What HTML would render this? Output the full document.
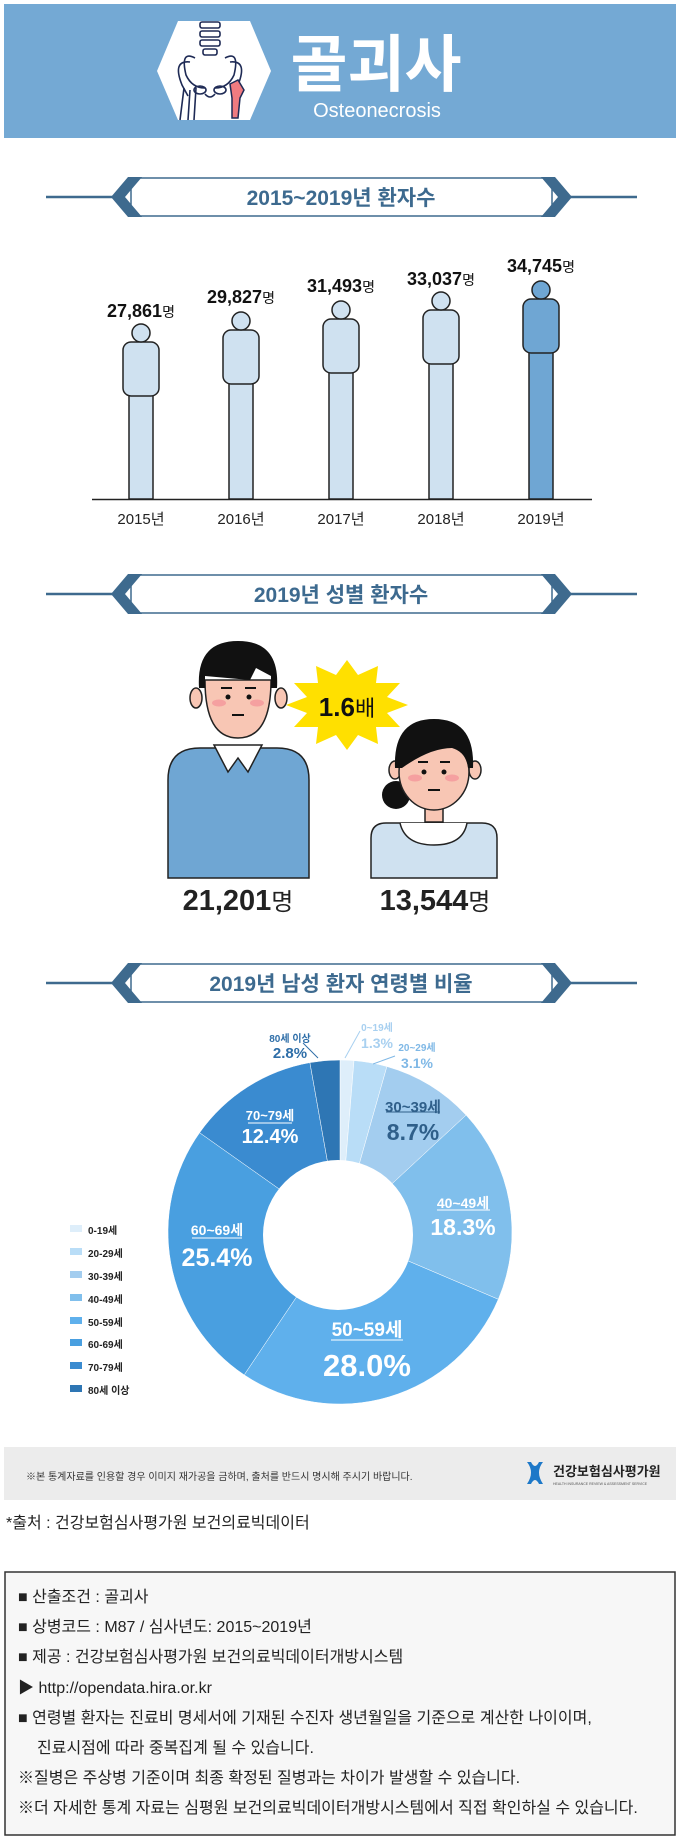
<!DOCTYPE html>
<html><head><meta charset="utf-8"><style>
html,body{margin:0;padding:0;background:#fff}
svg{display:block}
text{font-family:"Liberation Sans","Noto Sans CJK KR",sans-serif}
</style></head><body>
<svg width="680" height="1838" viewBox="0 0 680 1838" xmlns="http://www.w3.org/2000/svg">
<defs>
<g id="banner">
<line x1="46" y1="0" x2="115" y2="0" stroke="#3e6a8e" stroke-width="2.5"/>
<line x1="568" y1="0" x2="637" y2="0" stroke="#3e6a8e" stroke-width="2.5"/>
<path d="M136,-19 L547,-19 Q552,-19 552,-14 L552,14 Q552,19 547,19 L136,19 Q131,19 131,14 L131,-14 Q131,-19 136,-19 Z" fill="#fff" stroke="#3e6a8e" stroke-width="1.5"/>
<path d="M128,-20 L142,-20 L125,0 L142,20 L128,20 L111,0 Z" fill="#3e6a8e"/>
<path d="M555,-20 L541,-20 L558,0 L541,20 L555,20 L572,0 Z" fill="#3e6a8e"/>
</g>
</defs>
<!-- header -->
<rect x="4" y="4" width="672" height="134" fill="#74a9d4"/>
<polygon points="157,71 178,21 250,21 271,71 250,120 178,120" fill="#fff"/>
<g fill="none" stroke="#1e2a55" stroke-width="1.6">
<rect x="200" y="22" width="20" height="6" rx="2"/><rect x="200" y="31" width="20" height="6" rx="2"/><rect x="200" y="40" width="20" height="6" rx="2"/><rect x="203" y="49" width="14" height="6" rx="2"/>
<path d="M195,58 Q180,50 186,75 Q192,88 205,88 M225,58 Q240,50 234,75 Q228,88 215,88"/>
<path d="M190,62 Q172,60 182,85 L188,96 M230,62 Q248,60 238,85"/>
<path d="M196,88 L194,120 M205,94 Q210,100 215,94"/>
<ellipse cx="200" cy="90" rx="6" ry="4"/><ellipse cx="220" cy="90" rx="6" ry="4"/>
<path d="M184,88 L180,120 M190,90 L188,120"/>
</g>
<path d="M230,84 L238,80 L244,90 L240,98 L238,118 L232,118 L232,98 Z" fill="#f07b80" stroke="#1e2a55" stroke-width="1.5"/>
<text x="376" y="86" text-anchor="middle" font-size="62" font-weight="bold" fill="#fff">골괴사</text>
<text x="377" y="117" text-anchor="middle" font-size="20" fill="#fff">Osteonecrosis</text>

<!-- section 1 -->
<use href="#banner" transform="translate(0,197)"/>
<text x="341" y="205" text-anchor="middle" font-size="21" font-weight="bold" fill="#3d6a8f">2015~2019년 환자수</text>
<g stroke="#222" stroke-width="1.5" fill="#cfe1f0">
<rect x="129" y="394" width="24" height="105"/><rect x="123" y="342" width="36" height="54" rx="8"/><circle cx="141" cy="333" r="9"/>
<rect x="229" y="382" width="24" height="117"/><rect x="223" y="330" width="36" height="54" rx="8"/><circle cx="241" cy="321" r="9"/>
<rect x="329" y="371" width="24" height="128"/><rect x="323" y="319" width="36" height="54" rx="8"/><circle cx="341" cy="310" r="9"/>
<rect x="429" y="362" width="24" height="137"/><rect x="423" y="310" width="36" height="54" rx="8"/><circle cx="441" cy="301" r="9"/>
<g fill="#6fa6d3"><rect x="529" y="351" width="24" height="148"/><rect x="523" y="299" width="36" height="54" rx="8"/><circle cx="541" cy="290" r="9"/></g>
</g>
<line x1="92" y1="499.5" x2="592" y2="499.5" stroke="#222" stroke-width="1.5"/>
<g font-size="18" font-weight="bold" fill="#111" text-anchor="middle">
<text x="141" y="317">27,861<tspan font-size="14" font-weight="normal">명</tspan></text>
<text x="241" y="303">29,827<tspan font-size="14" font-weight="normal">명</tspan></text>
<text x="341" y="292">31,493<tspan font-size="14" font-weight="normal">명</tspan></text>
<text x="441" y="285">33,037<tspan font-size="14" font-weight="normal">명</tspan></text>
<text x="541" y="272">34,745<tspan font-size="14" font-weight="normal">명</tspan></text>
</g>
<g font-size="15" fill="#222" text-anchor="middle">
<text x="141" y="524">2015년</text><text x="241" y="524">2016년</text><text x="341" y="524">2017년</text><text x="441" y="524">2018년</text><text x="541" y="524">2019년</text>
</g>

<!-- section 2 -->
<use href="#banner" transform="translate(0,594)"/>
<text x="341" y="602" text-anchor="middle" font-size="21" font-weight="bold" fill="#3d6a8f">2019년 성별 환자수</text>
<path d="M168,878 L168,780 Q168,748 200,748 L277,748 Q309,748 309,780 L309,878 Z" fill="#6fa6d3" stroke="#222" stroke-width="1.5"/>
<path d="M214,745 L228,772 L238,758 L248,772 L262,745 Z" fill="#fff" stroke="#222" stroke-width="1.5"/>
<ellipse cx="196" cy="698" rx="6" ry="10" fill="#f8c6b4" stroke="#222" stroke-width="1.5"/>
<ellipse cx="281" cy="698" rx="6" ry="10" fill="#f8c6b4" stroke="#222" stroke-width="1.5"/>
<path d="M205,680 Q205,738 238,738 Q271,738 271,680 Z" fill="#f8c6b4" stroke="#222" stroke-width="1.5"/>
<path d="M199,688 Q196,641 238,641 Q280,641 277,688 L271,688 L271,676 L256,668 L250,680 L205,676 L205,688 Z" fill="#111"/>
<ellipse cx="219" cy="703" rx="7" ry="3.5" fill="#f5a0a0"/><ellipse cx="257" cy="703" rx="7" ry="3.5" fill="#f5a0a0"/>
<circle cx="228" cy="697" r="2.5" fill="#111"/><circle cx="249" cy="697" r="2.5" fill="#111"/>
<path d="M221,688 L232,688 M245,688 L256,688 M232,715 L244,715" stroke="#111" stroke-width="2"/>
<polygon points="408,705 387,713 400,727 376,727 378,744 358,735 347,750 336,735 316,744 318,727 294,727 307,713 286,705 307,697 294,683 318,683 316,666 336,675 347,660 358,675 378,666 376,683 400,683 387,697" fill="#ffe000"/>
<text x="347" y="716" text-anchor="middle" font-size="26" font-weight="bold" fill="#111">1.6<tspan font-weight="normal" font-size="22">배</tspan></text>
<path d="M371,878 L371,838 Q371,823 386,823 L482,823 Q497,823 497,838 L497,878 Z" fill="#cfe1f0" stroke="#222" stroke-width="1.5"/>
<path d="M400,823 Q405,845 434,845 Q463,845 467,823" fill="#fff" stroke="#222" stroke-width="1.5"/>
<circle cx="396" cy="795" r="14" fill="#111"/>
<ellipse cx="395" cy="770" rx="6" ry="9" fill="#f8c6b4" stroke="#222" stroke-width="1.5"/>
<ellipse cx="475" cy="770" rx="6" ry="9" fill="#f8c6b4" stroke="#222" stroke-width="1.5"/>
<rect x="425" y="800" width="18" height="22" fill="#f8c6b4" stroke="#222" stroke-width="1.5"/>
<ellipse cx="434" cy="772" rx="35" ry="38" fill="#f8c6b4" stroke="#222" stroke-width="1.5"/>
<path d="M395,768 Q393,719 434,719 Q475,719 473,768 L468,768 Q466,752 452,748 Q430,748 402,768 Z" fill="#111"/>
<ellipse cx="415" cy="778" rx="7" ry="3.5" fill="#f5a0a0"/><ellipse cx="452" cy="778" rx="7" ry="3.5" fill="#f5a0a0"/>
<circle cx="424" cy="772" r="2.5" fill="#111"/><circle cx="444" cy="772" r="2.5" fill="#111"/>
<path d="M418,762 L428,762 M440,762 L450,762 M428,790 L440,790" stroke="#111" stroke-width="2"/>
<g font-size="29" font-weight="bold" fill="#222" text-anchor="middle">
<text x="238" y="910">21,201<tspan font-size="24" font-weight="normal">명</tspan></text>
<text x="435" y="910">13,544<tspan font-size="24" font-weight="normal">명</tspan></text>
</g>

<!-- section 3 -->
<use href="#banner" transform="translate(0,983)"/>
<text x="341" y="991" text-anchor="middle" font-size="21" font-weight="bold" fill="#3d6a8f">2019년 남성 환자 연령별 비율</text>
<g stroke="#fff" stroke-width="0.5">
<path d="M340,1232 L340,1060 A172,172 0 0 1 354,1060.6 Z" fill="#deeefa"/>
<path d="M340,1232 L354,1060.6 A172,172 0 0 1 386.9,1066.5 Z" fill="#b9ddf7"/>
<path d="M340,1232 L386.9,1066.5 A172,172 0 0 1 466.1,1115.1 Z" fill="#a3cdef"/>
<path d="M340,1232 L466.1,1115.1 A172,172 0 0 1 498.3,1299.3 Z" fill="#80bfec"/>
<path d="M340,1232 L498.3,1299.3 A172,172 0 0 1 244.2,1374.9 Z" fill="#5fb0ec"/>
<path d="M340,1232 L244.2,1374.9 A172,172 0 0 1 199.6,1132.7 Z" fill="#499fe0"/>
<path d="M340,1232 L199.6,1132.7 A172,172 0 0 1 309.9,1062.6 Z" fill="#3a8bd0"/>
<path d="M340,1232 L309.9,1062.6 A172,172 0 0 1 340,1060 Z" fill="#2e76b4"/>
</g>
<circle cx="338" cy="1235" r="75" fill="#fff"/>
<g text-anchor="middle" font-weight="bold">
<text x="377" y="1031" font-size="10" fill="#a8d0f0">0~19세</text>
<text x="377" y="1048" font-size="14" fill="#a8d0f0">1.3%</text>
<text x="417" y="1051" font-size="10" fill="#7fb8e6">20~29세</text>
<text x="417" y="1068" font-size="14" fill="#7fb8e6">3.1%</text>
<text x="290" y="1042" font-size="10" fill="#2e6ea8">80세 이상</text>
<text x="290" y="1058" font-size="15" fill="#2e6ea8">2.8%</text>
<text x="413" y="1112" font-size="15" fill="#2f5f8a">30~39세</text>
<text x="413" y="1140" font-size="23" fill="#2f5f8a">8.7%</text>
<text x="463" y="1208" font-size="14" fill="#fff">40~49세</text>
<text x="463" y="1235" font-size="23" fill="#fff">18.3%</text>
<text x="367" y="1336" font-size="19" fill="#fff">50~59세</text>
<text x="367" y="1376" font-size="31" fill="#fff">28.0%</text>
<text x="217" y="1235" font-size="14" fill="#fff">60~69세</text>
<text x="217" y="1266" font-size="25" fill="#fff">25.4%</text>
<text x="270" y="1120" font-size="13" fill="#fff">70~79세</text>
<text x="270" y="1143" font-size="20" fill="#fff">12.4%</text>
</g>
<g stroke-width="1">
<line x1="386" y1="1112" x2="440" y2="1112" stroke="#2f5f8a"/>
<line x1="437" y1="1210" x2="490" y2="1210" stroke="#fff"/>
<line x1="331" y1="1340" x2="403" y2="1340" stroke="#fff"/>
<line x1="192" y1="1238" x2="242" y2="1238" stroke="#fff"/>
<line x1="248" y1="1123" x2="292" y2="1123" stroke="#fff"/>
<line x1="303" y1="1043" x2="318" y2="1058" stroke="#2e6ea8"/>
<line x1="345" y1="1058" x2="360" y2="1031" stroke="#a8d0f0"/>
<line x1="373" y1="1064" x2="395" y2="1056" stroke="#7fb8e6"/>
</g>
<g font-size="10" font-weight="bold" fill="#222">
<rect x="70" y="1225" width="12" height="7" fill="#deeefa"/><text x="88" y="1234">0-19세</text>
<rect x="70" y="1248" width="12" height="7" fill="#b9ddf7"/><text x="88" y="1257">20-29세</text>
<rect x="70" y="1271" width="12" height="7" fill="#a3cdef"/><text x="88" y="1280">30-39세</text>
<rect x="70" y="1294" width="12" height="7" fill="#80bfec"/><text x="88" y="1303">40-49세</text>
<rect x="70" y="1317" width="12" height="7" fill="#5fb0ec"/><text x="88" y="1326">50-59세</text>
<rect x="70" y="1339" width="12" height="7" fill="#499fe0"/><text x="88" y="1348">60-69세</text>
<rect x="70" y="1362" width="12" height="7" fill="#3a8bd0"/><text x="88" y="1371">70-79세</text>
<rect x="70" y="1385" width="12" height="7" fill="#2e76b4"/><text x="88" y="1394">80세 이상</text>
</g>

<!-- footer -->
<rect x="4" y="1447" width="672" height="53" fill="#ececec"/>
<text x="26" y="1480" font-size="10" fill="#333">※본 통계자료를 인용할 경우 이미지 재가공을 금하며, 출처를 반드시 명시해 주시기 바랍니다.</text>
<path d="M527,1462 Q535,1472 527,1484 L531,1484 Q535,1476 539,1484 L543,1484 Q535,1472 543,1462 L539,1462 Q535,1470 531,1462 Z" fill="#1d78c8"/>
<text x="553" y="1476" font-size="13" font-weight="bold" fill="#222">건강보험심사평가원</text>
<text x="553" y="1485" font-size="3.5" fill="#555">HEALTH INSURANCE REVIEW &amp; ASSESSMENT SERVICE</text>
<text x="6" y="1528" font-size="16" fill="#222">*출처 : 건강보험심사평가원 보건의료빅데이터</text>
<rect x="5" y="1572" width="670" height="263" fill="#f7f7f7" stroke="#333" stroke-width="1.5"/>
<g font-size="16" fill="#222">
<text x="18" y="1602">■ 산출조건 : 골괴사</text>
<text x="18" y="1632">■ 상병코드 : M87 / 심사년도: 2015~2019년</text>
<text x="18" y="1662">■ 제공 : 건강보험심사평가원 보건의료빅데이터개방시스템</text>
<text x="18" y="1693">▶ http://opendata.hira.or.kr</text>
<text x="18" y="1723">■ 연령별 환자는 진료비 명세서에 기재된 수진자 생년월일을 기준으로 계산한 나이이며,</text>
<text x="37" y="1753">진료시점에 따라 중복집계 될 수 있습니다.</text>
<text x="18" y="1783">※질병은 주상병 기준이며 최종 확정된 질병과는 차이가 발생할 수 있습니다.</text>
<text x="18" y="1813">※더 자세한 통계 자료는 심평원 보건의료빅데이터개방시스템에서 직접 확인하실 수 있습니다.</text>
</g>
</svg>
</body></html>
